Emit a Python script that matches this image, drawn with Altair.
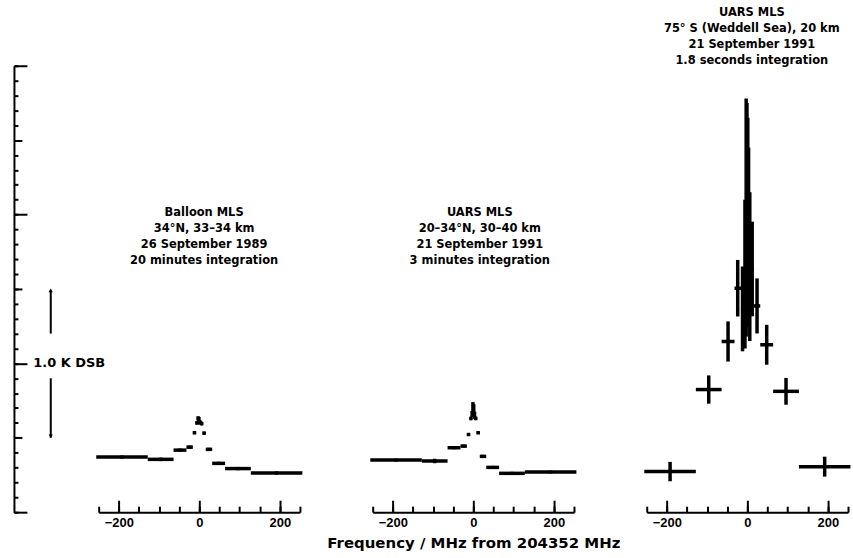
import altair as alt
import pandas as pd

# ---- data -------------------------------------------------------------
lo_edges = [-256, -128, -64, -32, -16, -8, -4, -2, 0, 2, 4, 8, 16, 32, 64, 128]
hi_edges = [-128, -64, -32, -16, -8, -4, -2, 0, 2, 4, 8, 16, 32, 64, 128, 256]

balloon_k = [0.370, 0.355, 0.417, 0.437, 0.534, 0.600, 0.630, 0.625,
             0.605, 0.600, 0.595, 0.531, 0.422, 0.328, 0.293, 0.263]
balloon_err = [0.011, 0.012, 0.011, 0.011, 0.010, 0.012, 0.015, 0.015,
               0.015, 0.012, 0.012, 0.010, 0.011, 0.011, 0.011, 0.011]

uars3_k = [0.350, 0.344, 0.433, 0.444, 0.522, 0.630, 0.660, 0.700,
           0.690, 0.650, 0.630, 0.534, 0.375, 0.301, 0.261, 0.270]
uars3_err = [0.010, 0.015, 0.010, 0.010, 0.010, 0.012, 0.020, 0.040,
             0.035, 0.025, 0.012, 0.010, 0.010, 0.010, 0.010, 0.010]

uars18_k = [0.273, 0.824, 1.147, 1.505, 1.366, 1.600, 1.980, 2.000,
            1.950, 1.850, 1.650, 1.634, 1.386, 1.125, 0.812, 0.306]
uars18_err = [0.065, 0.095, 0.135, 0.190, 0.285, 0.500, 0.800, 0.750,
              0.700, 0.600, 0.500, 0.318, 0.185, 0.134, 0.090, 0.067]

x_ticks_minor = list(range(-250, 251, 50))
x_ticks_major = [-200, 0, 200]
y_ticks_minor = [round(i * 0.1, 1) for i in range(31)]
y_ticks_mid = [0.5, 1.5, 2.5]
y_ticks_major = [0, 1, 2, 3]

panel_labels = [
    "Balloon MLS\n34°N, 33–34 km\n26 September 1989\n20 minutes integration",
    "UARS MLS\n20–34°N, 30–40 km\n21 September 1991\n3 minutes integration",
    "UARS MLS\n75° S (Weddell Sea), 20 km\n21 September 1991\n1.8 seconds integration",
]
scale_label = "1.0 K DSB"
x_title = "Frequency / MHz from 204352 MHz"

# ---- layout constants ---------------------------------------------------
W, H = 202, 448
XS = alt.Scale(domain=[-250, 250], nice=False, zero=False)
YS = alt.Scale(domain=[0, 3], nice=False, zero=False)
BOLD = "bold"


def frame(vals, errs):
    return pd.DataFrame({
        "lo": lo_edges,
        "hi": hi_edges,
        "mid": [(a + b) / 2 for a, b in zip(lo_edges, hi_edges)],
        "k": vals,
        "k_lo": [v - e for v, e in zip(vals, errs)],
        "k_hi": [v + e for v, e in zip(vals, errs)],
    })


def label_axis(title):
    kw = dict(orient="bottom", values=x_ticks_major, ticks=False, domain=False,
              grid=False, labelFont="Liberation Sans", labelFontSize=13,
              labelFontWeight=BOLD, labelColor="black", labelPadding=4,
              labelFlush=False, tickSize=0)
    if title:
        kw.update(title=title, titleFont="DejaVu Sans", titleFontSize=15,
                  titleFontWeight=BOLD, titleColor="black", titlePadding=6)
    else:
        kw.update(title=None)
    return alt.Axis(**kw)


xtick_minor = alt.Axis(orient="top", offset=-H, values=x_ticks_minor, labels=False,
                       tickSize=6, tickWidth=2, tickColor="black", domain=True,
                       domainWidth=2, domainColor="black", grid=False, title=None)
xtick_major = alt.Axis(orient="top", offset=-H, values=x_ticks_major, labels=False,
                       tickSize=12, tickWidth=2, tickColor="black", domain=False,
                       grid=False, title=None)


def yaxis(values, size, domain):
    return alt.Axis(orient="right", offset=-(W + 85), values=values, labels=False,
                    tickSize=size, tickWidth=2, tickColor="black", domain=domain,
                    domainWidth=2, domainColor="black", grid=False, title=None)


def panel(vals, errs, label, tx, ty, title=None, first=False):
    df = frame(vals, errs)
    bars = alt.Chart(df).mark_rule(color="black", strokeWidth=3.5, strokeCap="butt").encode(
        x=alt.X("lo:Q", scale=XS, axis=label_axis(title)),
        x2="hi:Q",
        y=alt.Y("k:Q", scale=YS, axis=yaxis(y_ticks_minor, 4, True) if first else None),
    )
    ebars = alt.Chart(df).mark_rule(color="black", strokeWidth=3.5, strokeCap="butt").encode(
        x=alt.X("mid:Q", scale=XS, axis=xtick_minor),
        y=alt.Y("k_lo:Q", scale=YS, axis=yaxis(y_ticks_mid, 8, False) if first else None),
        y2="k_hi:Q",
    )
    tdf = pd.DataFrame({"t": [label], "x": [tx], "y": [ty]})
    text = alt.Chart(tdf).mark_text(
        font="DejaVu Sans", fontWeight=BOLD, fontSize=11.5, lineHeight=16,
        lineBreak="\n", align="center", baseline="middle", color="black",
    ).encode(
        x=alt.X("x:Q", scale=XS, axis=xtick_major),
        y=alt.Y("y:Q", scale=YS, axis=yaxis(y_ticks_major, 13, False) if first else None),
        text="t:N",
    )
    layers = [bars, ebars, text]
    if first:
        sx = -369
        seg = pd.DataFrame({"x": [sx, sx], "a": [1.2, 0.5], "b": [1.49, 0.9]})
        rule = alt.Chart(seg).mark_rule(color="black", strokeWidth=2).encode(
            x=alt.X("x:Q", scale=XS, axis=None),
            y=alt.Y("a:Q", scale=YS, axis=None), y2="b:Q")
        tips = pd.DataFrame({"x": [sx, sx], "y": [1.49, 0.51],
                             "s": ["triangle-up", "triangle-down"]})
        heads = alt.Chart(tips).mark_point(filled=True, color="black", size=18, opacity=1).encode(
            x=alt.X("x:Q", scale=XS, axis=None),
            y=alt.Y("y:Q", scale=YS, axis=None),
            shape=alt.Shape("s:N", scale=None, legend=None))
        sl = pd.DataFrame({"t": [scale_label], "x": [-323], "y": [1.0]})
        stext = alt.Chart(sl).mark_text(font="DejaVu Sans", fontWeight=BOLD, fontSize=13,
                                        align="center", baseline="middle", color="black").encode(
            x=alt.X("x:Q", scale=XS, axis=None),
            y=alt.Y("y:Q", scale=YS, axis=None),
            text="t:N")
        layers += [rule, heads, stext]
    lay = alt.layer(*layers).resolve_axis(x="independent", y="independent")
    return lay.properties(width=W, height=H)


p1 = panel(balloon_k, balloon_err, panel_labels[0], 12, 2.009, first=True)
p2 = panel(uars3_k, uars3_err, panel_labels[1], 16, 2.009, title=x_title)
p3 = panel(uars18_k, uars18_err, panel_labels[2], 11, 3.355)

chart = alt.hconcat(p1, p2, p3, spacing=73, bounds="flush").properties(
    padding={"left": 12, "top": 5, "right": 0, "bottom": 5},
    background="white",
).configure_view(stroke="transparent")

chart.save("out.html", embed_options={"renderer": "svg", "actions": False})
